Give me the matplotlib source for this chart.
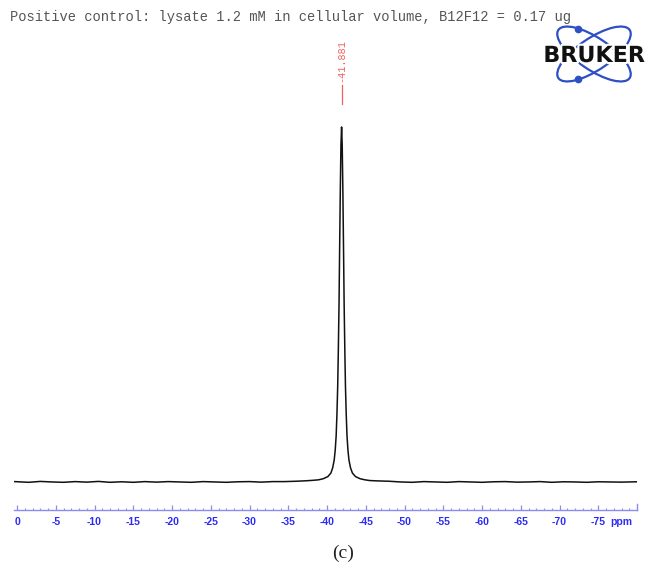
import numpy as np
import matplotlib
matplotlib.use('Agg')
import matplotlib.pyplot as plt
from matplotlib.patches import Ellipse
import matplotlib.patheffects as pe

# spectrum (ppm, normalized intensity)
base_ppm = [0.3, -1.5, -3.0, -4.5, -6.0, -7.5, -9.0, -10.5, -12.0, -13.5, -15.0,
            -16.5, -18.0, -19.5, -21.0, -22.5, -24.0, -25.5, -27.0, -28.5, -30.0,
            -31.5, -33.0, -34.5, -36.0, -37.0, -37.8, -38.4]
base_int = [0.001, -0.001, 0.0015, 0.0, -0.001, 0.001, -0.0005, 0.0015, -0.001, 0.0005,
            -0.001, 0.001, -0.0005, 0.001, 0.0, -0.001, 0.001, 0.0, -0.001, 0.0005,
            0.001, -0.0005, 0.001, 0.001, 0.002, 0.003, 0.004, 0.005]
peak_ppm = [-38.9, -39.5, -40.1, -40.5, -40.73, -40.93, -41.06, -41.18, -41.28,
            -41.38, -41.46, -41.55, -41.63, -41.72, -41.80, -41.881,
            -41.96, -42.04, -42.13, -42.21, -42.30, -42.38, -42.48, -42.58,
            -42.70, -42.83, -43.03, -43.28, -43.68, -44.28, -44.9]
peak_int = [0.006, 0.009, 0.015, 0.025, 0.04, 0.062, 0.09, 0.13, 0.19,
            0.27, 0.37, 0.50, 0.66, 0.83, 0.95, 1.0,
            0.95, 0.83, 0.66, 0.50, 0.37, 0.27, 0.19, 0.13,
            0.09, 0.062, 0.04, 0.025, 0.015, 0.009, 0.006]
tail_ppm = [-45.5, -46.5, -48.0, -49.5, -51.0, -52.5, -54.0, -55.5, -57.0, -58.5,
            -60.0, -61.5, -63.0, -64.5, -66.0, -67.5, -69.0, -70.5, -72.0, -73.5,
            -75.0, -76.5, -78.0, -80.0]
tail_int = [0.004, 0.003, 0.002, 0.0, -0.001, 0.001, 0.0, -0.001, 0.001, 0.0,
            -0.001, 0.0005, 0.001, -0.0005, 0.0, 0.001, -0.001, 0.0005, 0.0, -0.001,
            0.0005, 0.0, -0.0005, 0.0005]

peak_label = '-41.881'
peak_pos = -41.881
tick_vals = list(range(0, -80, -5))
tick_labels = ['0' if v == 0 else '-%d' % abs(v) for v in tick_vals]
title = 'Positive control: lysate 1.2 mM in cellular volume, B12F12 = 0.17 ug'

ppm = base_ppm + peak_ppm + tail_ppm
inten = base_int + peak_int + tail_int

W, H = 648, 567
fig = plt.figure(figsize=(W / 100, H / 100), dpi=100)

# main spectrum axes
ax = fig.add_axes([14 / W, 1 - 510 / H, (637 - 14) / W, (510 - 40) / H])
ax.plot(ppm, inten, color='#111111', lw=1.1)
ax.set_xlim(0.39, -80.0)
ax.set_ylim(-0.079, 1.245)

for s in ['top', 'right', 'left']:
    ax.spines[s].set_visible(False)
ax.spines['bottom'].set_color('#8c8cf0')
ax.spines['bottom'].set_linewidth(1.0)
ax.set_yticks([])
ax.set_xticks(tick_vals)
ax.set_xticklabels(tick_labels, fontsize=7.5, fontweight='bold', color='#2b2bf5',
                   family='Liberation Sans')
ax.set_xticks(np.arange(0, -80, -1), minor=True)
ax.tick_params(axis='x', which='major', direction='in', length=3.5, width=0.9,
               color='#8c8cf0', pad=5)
ax.tick_params(axis='x', which='minor', direction='in', length=1.6, width=0.8,
               color='#8c8cf0')
ax.plot([1, 1], [0, 0.012], transform=ax.transAxes, color='#8c8cf0', lw=1,
        clip_on=False)
ax.annotate('ppm', xy=(-78.0, 0), xycoords=('data', 'axes fraction'),
            xytext=(0, -5), textcoords='offset points', ha='center', va='top',
            fontsize=7.5, fontweight='bold', color='#2b2bf5', family='Liberation Sans')

# peak annotation
ax.text(peak_pos, 1.186, peak_label, rotation=90, ha='center', va='center',
        fontsize=7.3, color='#f06060', family='Liberation Mono')
ax.plot([peak_pos, peak_pos], [1.065, 1.118], color='#f06060', lw=0.9, clip_on=False)

# title
fig.text(10 / W, 1 - 17 / H, title, ha='left', va='center', fontsize=9.9,
         color='#555555', family='Liberation Mono')

# panel label
fig.text(343 / W, 1 - 553 / H, '(c)', ha='center', va='center', fontsize=14,
         color='#222222', family='Liberation Serif')

# Bruker logo
lax = fig.add_axes([0, 0, 1, 1])
lax.set_xlim(0, W)
lax.set_ylim(H, 0)
lax.axis('off')
for ang in (34, -34):
    lax.add_patch(Ellipse((594, 54), 86, 32, angle=ang, fill=False,
                          edgecolor='#2f4fc4', lw=1.6))
lax.plot([578, 578], [29, 79], 'o', color='#2f4fc4', ms=4.5)
lax.text(594, 56, 'BRUKER', ha='center', va='center', fontsize=16,
         fontweight='heavy', color='#111111', family='DejaVu Sans',
         path_effects=[pe.withStroke(linewidth=3, foreground='white')])

fig.savefig('out.png', dpi=100)
